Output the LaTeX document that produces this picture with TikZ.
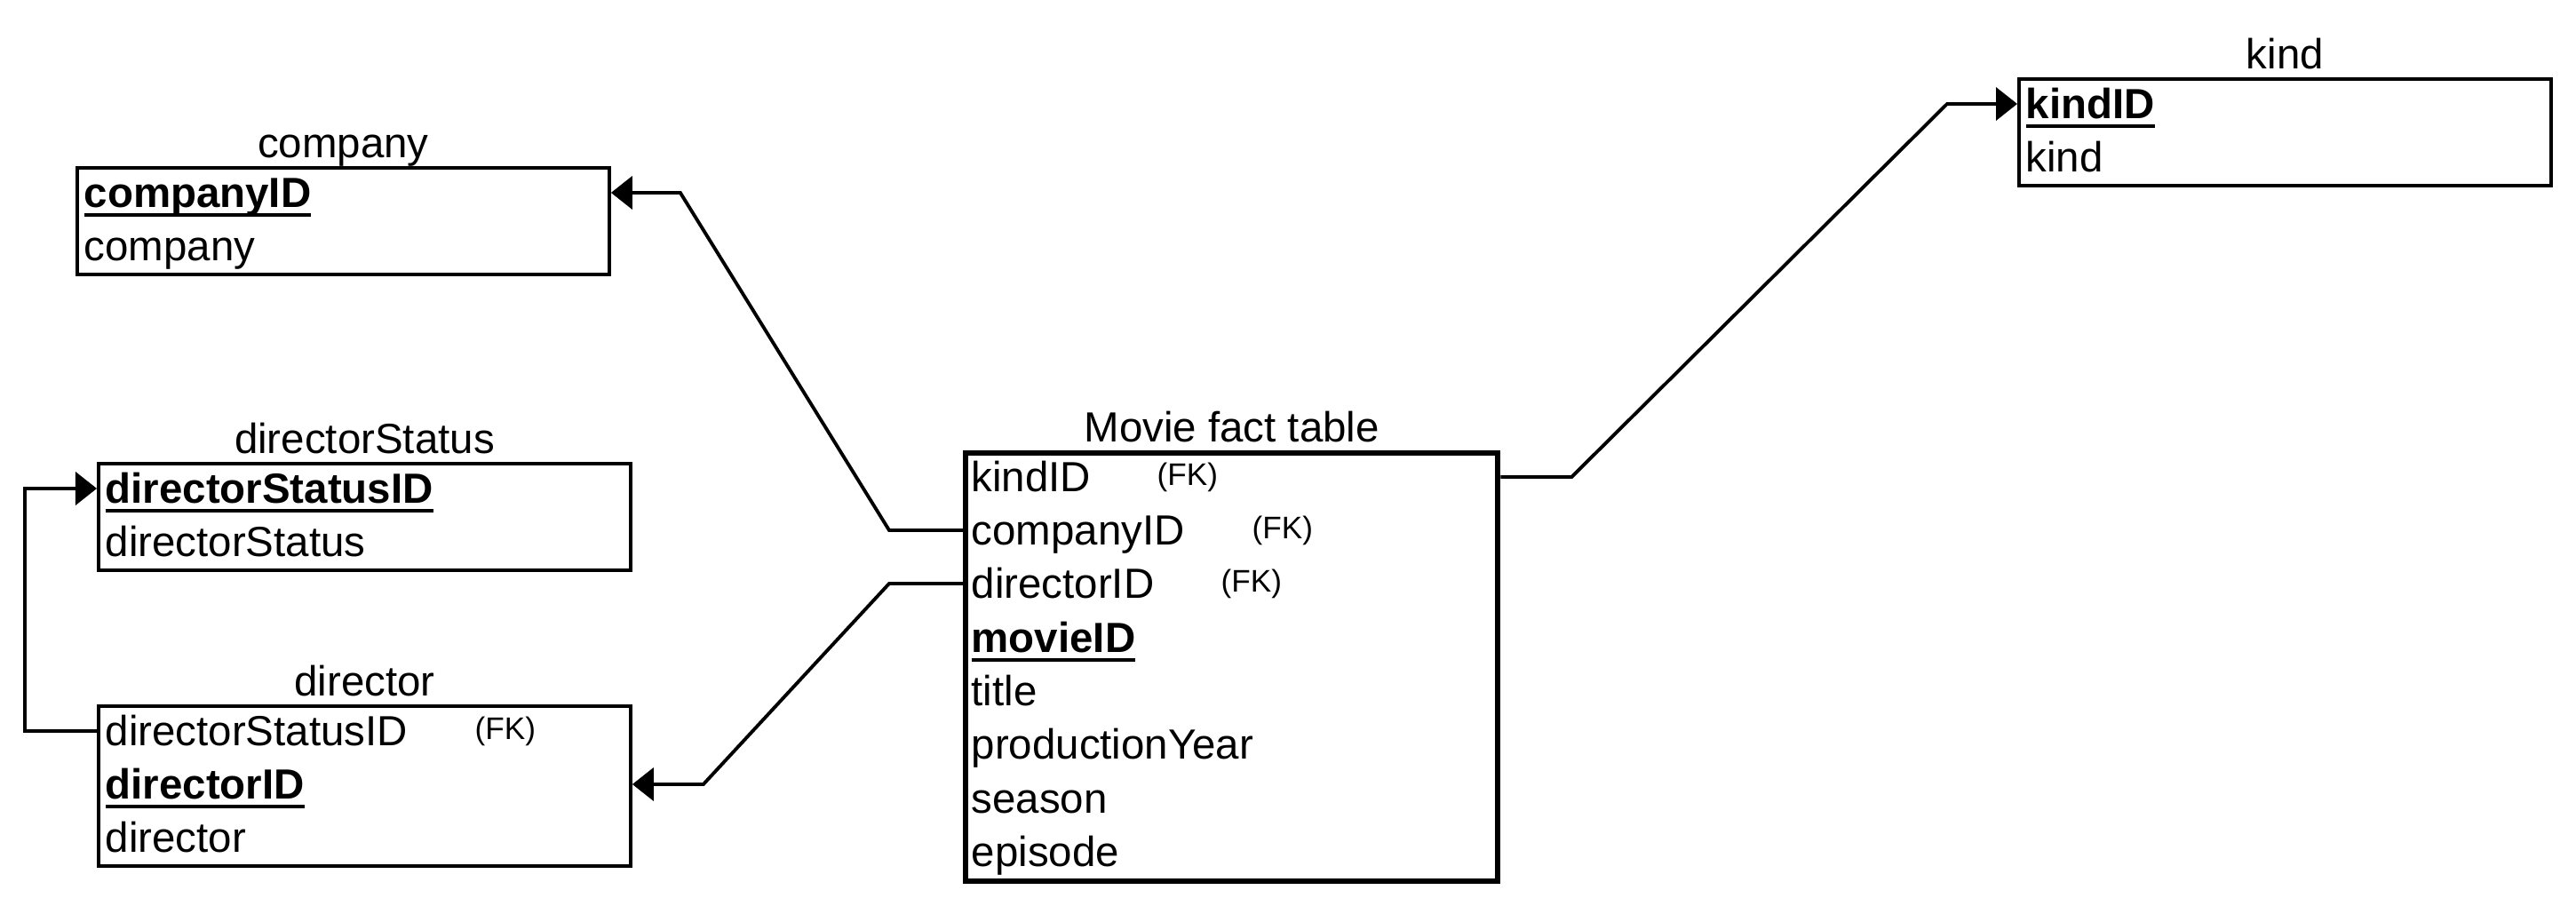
\documentclass[tikz,border=0pt]{standalone}
\usepackage{fontspec}
\setmainfont{Liberation Sans}
\usetikzlibrary{calc,arrows.meta}
\tikzset{
  tbl/.style={draw, line width=1.1pt, anchor=north west, minimum width=5.99cm, inner sep=0pt},
  facttbl/.style={tbl, line width=1.8pt},
  row/.style={anchor=west, inner sep=0pt, text height=0.5cm, text depth=0.16cm, font=\fontsize{13.5}{16}\selectfont},
  ttl/.style={anchor=base, inner sep=0pt, font=\fontsize{13.5}{16}\selectfont},
  fkey/.style={anchor=west, inner sep=0pt, font=\fontsize{10}{12}\selectfont},
  link/.style={line width=1.1pt, -{Triangle[length=0.24cm, width=0.37cm]}}
}
\newcommand{\pkey}[1]{\setbox0\hbox{\textbf{#1}}\rlap{\rule[-2.8pt]{\wd0}{1.1pt}}\box0}

\begin{document}
\begin{tikzpicture}
    \useasboundingbox (0,0) rectangle (29,10.2);

    \node [tbl, minimum height=1.2cm] (company) at (0.85,8.33) {};
    \node [ttl] (companyttl) at ([yshift=0.09cm]company.north) {company};
    \node [row] (ccompanyid) at (0.94,8.03) {\pkey{companyID}};
    \node [row] (ccompany) at (0.94,7.43) {company};

    \node [tbl, minimum height=1.2cm] (kind) at (22.71,9.33) {};
    \node [ttl] (kindttl) at ([yshift=0.09cm]kind.north) {kind};
    \node [row] (kkindid) at (22.80,9.03) {\pkey{kindID}};
    \node [row] (kkind) at (22.80,8.43) {kind};

    \node [tbl, minimum height=1.2cm] (dstatus) at (1.09,5.00) {};
    \node [ttl] (dstatusttl) at ([yshift=0.09cm]dstatus.north) {directorStatus};
    \node [row] (sdstatusid) at (1.18,4.70) {\pkey{directorStatusID}};
    \node [row] (sdstatus) at (1.18,4.10) {directorStatus};

    \node [tbl, minimum height=1.8cm] (director) at (1.09,2.27) {};
    \node [ttl] (directorttl) at ([yshift=0.09cm]director.north) {director};
    \node [row] (ddstatusid) at (1.18,1.97) {directorStatusID};
    \node [fkey] (ddstatusfk) at (5.34,1.97) {(FK)};
    \node [row] (ddirectorid) at (1.18,1.37) {\pkey{directorID}};
    \node [row] (ddirector) at (1.18,0.77) {director};

    \node [facttbl, minimum height=4.82cm] (movie) at (10.84,5.13) {};
    \node [ttl] (moviettl) at ([yshift=0.09cm]movie.north) {Movie fact table};
    \node [row] (mkindid) at (10.93,4.83) {kindID};
    \node [fkey] (mkindfk) at (13.02,4.83) {(FK)};
    \node [row] (mcompanyid) at (10.93,4.23) {companyID};
    \node [fkey] (mcompanyfk) at (14.09,4.23) {(FK)};
    \node [row] (mdirectorid) at (10.93,3.63) {directorID};
    \node [fkey] (mdirectorfk) at (13.74,3.63) {(FK)};
    \node [row] (mmovieid) at (10.93,3.02) {\pkey{movieID}};
    \node [row] (mtitle) at (10.93,2.42) {title};
    \node [row] (myear) at (10.93,1.82) {productionYear};
    \node [row] (mseason) at (10.93,1.21) {season};
    \node [row] (mepisode) at (10.93,0.61) {episode};

    \draw [link] (movie.east |- mkindid) -- ++(0.8,0) -- ([xshift=-0.79cm]kind.west |- kkindid) -- (kind.west |- kkindid);
    \draw [link] (movie.west |- mcompanyid) -- ++(-0.83,0) -- ([xshift=0.78cm]company.east |- ccompanyid) -- (company.east |- ccompanyid);
    \draw [link] (movie.west |- mdirectorid) -- ++(-0.83,0) -- ([xshift=0.80cm]director.east |- ddirectorid) -- (director.east |- ddirectorid);
    \draw [link] (director.west |- ddstatusid) -- ++(-0.81,0) |- (dstatus.west |- sdstatusid);
  \end{tikzpicture}
\end{document}
